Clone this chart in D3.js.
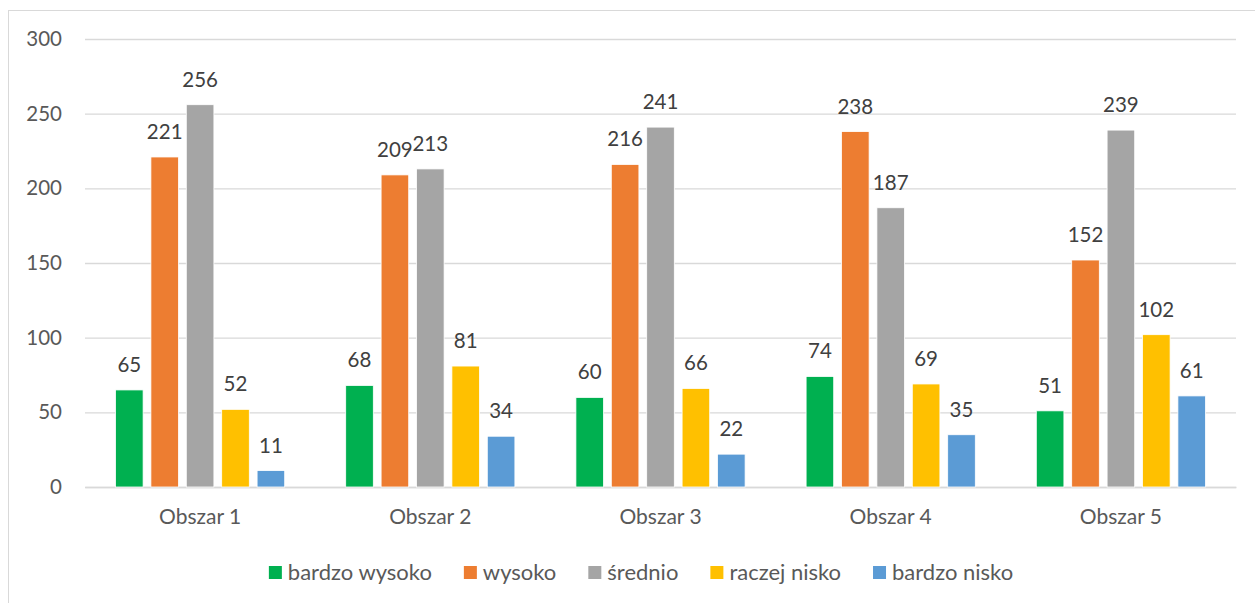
<!DOCTYPE html>
<html>
<head>
<meta charset="utf-8">
<script src="https://cdn.jsdelivr.net/npm/d3@7.9.0/dist/d3.min.js"></script>
<style>
  body { margin: 0; background: #fff; }
  svg { display: block; font-family: Lato, "Open Sans", sans-serif; }
</style>
</head>
<body>
<svg id="chart" width="1255" height="603"></svg>
<script>
const categories = ['Obszar 1', 'Obszar 2', 'Obszar 3', 'Obszar 4', 'Obszar 5'];
const seriesNames = ['bardzo wysoko', 'wysoko', 'średnio', 'raczej nisko', 'bardzo nisko'];
const seriesColors = ['#00b050', '#ed7d31', '#a5a5a5', '#ffc000', '#5b9bd5'];
const bardzoWysoko = [65, 68, 60, 74, 51];
const wysoko = [221, 209, 216, 238, 152];
const srednio = [256, 213, 241, 187, 239];
const raczejNisko = [52, 81, 66, 69, 102];
const bardzoNisko = [11, 34, 22, 35, 61];
const yTicks = [0, 50, 100, 150, 200, 250, 300];

const seriesValues = [bardzoWysoko, wysoko, srednio, raczejNisko, bardzoNisko];

const svg = d3.select('#chart');

// chart frame (right/bottom edges fall outside the picture)
svg.append('rect')
  .attr('x', 8.5).attr('y', 10.5)
  .attr('width', 1300).attr('height', 700)
  .attr('fill', 'none')
  .attr('stroke', '#d9d9d9');

const plot = { left: 85, right: 1236, top: 39, bottom: 487 };

const x = d3.scaleBand()
  .domain(categories)
  .range([plot.left, plot.right]);

const xInner = d3.scaleBand()
  .domain(seriesNames)
  .range([30.5, x.bandwidth() - 30.5])
  .paddingInner(0.22);

const y = d3.scaleLinear()
  .domain([0, 300])
  .range([plot.bottom, plot.top]);

// gridlines + y labels
const yAxis = svg.append('g').attr('transform', `translate(${plot.left},0)`)
  .call(d3.axisLeft(y).tickValues(yTicks).tickSize(-(plot.right - plot.left)).tickPadding(23));
yAxis.select('.domain').remove();
yAxis.selectAll('.tick line').attr('stroke', '#d9d9d9').attr('stroke-width', 1.4);
yAxis.selectAll('.tick text')
  .attr('fill', '#595959')
  .style('font-size', '20.5px')
  .style('font-family', 'Lato, "Open Sans", sans-serif');

// x category labels
const xAxis = svg.append('g').attr('transform', `translate(0,${plot.bottom})`)
  .call(d3.axisBottom(x).tickSize(0).tickPadding(22));
xAxis.select('.domain').attr('stroke', '#d9d9d9').attr('stroke-width', 1.4);
xAxis.selectAll('.tick text')
  .attr('fill', '#595959')
  .style('font-size', '21px')
  .style('font-family', 'Lato, "Open Sans", sans-serif');

// bars
const rows = [];
categories.forEach((c, ci) => {
  seriesNames.forEach((s, si) => {
    rows.push({ cat: c, series: s, color: seriesColors[si], value: seriesValues[si][ci] });
  });
});

const groups = svg.append('g');
groups.selectAll('rect')
  .data(rows)
  .join('rect')
  .attr('x', d => x(d.cat) + xInner(d.series))
  .attr('y', d => y(d.value))
  .attr('width', xInner.bandwidth())
  .attr('height', d => y(0) - y(d.value))
  .attr('fill', d => d.color)
  .attr('stroke', '#fff')
  .attr('stroke-width', 0.8);

groups.selectAll('text')
  .data(rows)
  .join('text')
  .attr('x', d => x(d.cat) + xInner(d.series) + xInner.bandwidth() / 2)
  .attr('y', d => y(d.value) - 18)
  .attr('text-anchor', 'middle')
  .attr('fill', '#404040')
  .style('font-size', '20.5px')
  .text(d => d.value);

// legend
const legend = svg.append('g');
const items = legend.selectAll('g')
  .data(seriesNames)
  .join('g');
items.append('rect')
  .attr('width', 13).attr('height', 13)
  .attr('y', 566)
  .attr('fill', (d, i) => seriesColors[i]);
items.append('text')
  .attr('x', 19)
  .attr('y', 580)
  .attr('fill', '#595959')
  .style('font-size', '22px')
  .text(d => d);

let cursor = 0;
const offsets = [];
items.each(function () {
  offsets.push(cursor);
  cursor += this.getBBox().width + 32;
});
const totalW = cursor - 32;
const startX = 641 - totalW / 2;
items.attr('transform', (d, i) => `translate(${startX + offsets[i]},0)`);
</script>
</body>
</html>
